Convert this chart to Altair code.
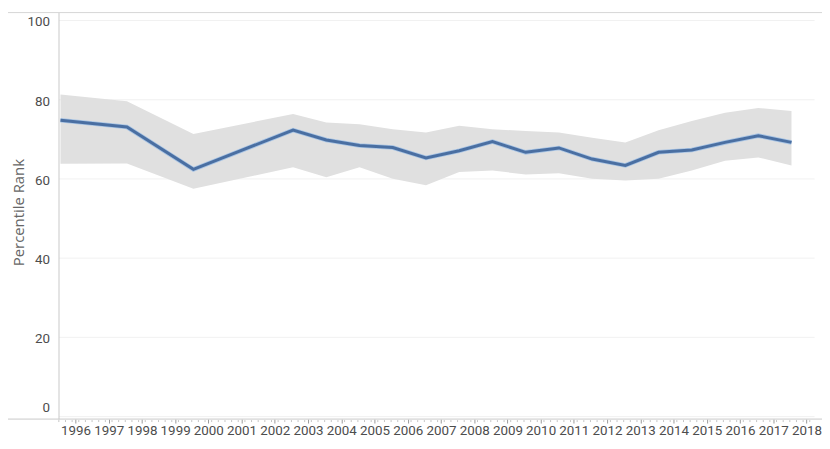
import altair as alt
import pandas as pd

# data (positions along the year axis as drawn)
years = [1996, 1998, 2000, 2003, 2004, 2005, 2006, 2007, 2008, 2009, 2010,
         2011, 2012, 2013, 2014, 2015, 2016, 2017, 2018]
rank = [74.7, 73.0, 62.3, 72.2, 69.7, 68.3, 67.8, 65.2, 67.0, 69.3, 66.6,
        67.7, 64.9, 63.3, 66.6, 67.2, 69.1, 70.8, 69.1]
upper = [81.2, 79.5, 71.2, 76.3, 74.1, 73.7, 72.4, 71.6, 73.3, 72.4, 72.0,
         71.6, 70.3, 69.1, 72.2, 74.5, 76.6, 77.8, 77.0]
lower = [63.7, 63.8, 57.4, 62.8, 60.3, 62.8, 59.9, 58.3, 61.6, 62.0, 61.0,
         61.3, 59.9, 59.5, 59.9, 62.0, 64.5, 65.3, 63.3]

tick_years = list(range(1996, 2019))
y_ticks = [0, 20, 40, 60, 80, 100]

df = pd.DataFrame({"year": years, "rank": rank, "upper": upper, "lower": lower})

W, H = 763, 411
FONT = "Roboto"
TXT = "#4d4d4d"

xscale = alt.Scale(domain=[1995.94, 2018.68], nice=False, zero=False)
yscale = alt.Scale(domain=[-0.75, 102], nice=False, zero=False)

x_axis = alt.Axis(
    values=[t + 0.45 for t in tick_years],
    labelExpr="'' + floor(datum.value)",
    title=None, grid=False, domain=False,
    ticks=True, tickSize=4, tickColor="#9a9a9a",
    labelFont=FONT, labelFontSize=13.5, labelColor=TXT,
    labelPadding=1, labelOverlap=False, labelFlush=False, labelBound=False,
)
y_axis = alt.Axis(
    values=y_ticks, title="Percentile Rank",
    grid=True, gridColor="#f1f1f1", gridWidth=1,
    domain=True, domainColor="#c8c8c8", ticks=False,
    labelFont=FONT, labelFontSize=13.5, labelColor=TXT, labelPadding=9,
    labelOffset={"condition": {"test": "datum.value == 0", "value": -9}, "value": 2},
    titleFont="Open Sans", titleFontSize=15, titleFontWeight="normal", titleColor="#666666",
    titleAngle=270, titleAlign="center", titleBaseline="middle",
    titleX=-40, titleY=202,
)

band = alt.Chart(df).mark_area(color="#e0e0e0", opacity=1).encode(
    x=alt.X("year:Q", scale=xscale, axis=x_axis),
    y=alt.Y("upper:Q", scale=yscale, axis=y_axis),
    y2="lower:Q",
)

halo = alt.Chart(df).mark_line(color="#a8c4e4", strokeWidth=4.6).encode(
    x=alt.X("year:Q", scale=xscale, axis=x_axis),
    y=alt.Y("rank:Q", scale=yscale, axis=y_axis),
)
line = alt.Chart(df).mark_line(color="#4a6fa2", strokeWidth=3).encode(
    x=alt.X("year:Q", scale=xscale, axis=x_axis),
    y=alt.Y("rank:Q", scale=yscale, axis=y_axis),
)

minor = alt.Chart(alt.sequence(1995.95, 2018.68, 0.2, as_="t")).mark_rule(
    color="#c4c4c4", strokeWidth=1
).encode(
    x=alt.X("t:Q", scale=xscale, axis=x_axis),
    y=alt.value(H + 1), y2=alt.value(H + 3),
)

one = pd.DataFrame({"a": [0]})
top_border = alt.Chart(one).mark_rule(color="#d6d6d6", strokeWidth=1).encode(
    x=alt.value(-51), x2=alt.value(W + 8), y=alt.value(0.5)
)
bottom_line = alt.Chart(one).mark_rule(color="#c8c8c8", strokeWidth=1).encode(
    x=alt.value(-51), x2=alt.value(W + 8), y=alt.value(H)
)

chart = alt.layer(band, halo, line, minor, top_border, bottom_line).properties(
    width=W, height=H,
    autosize=alt.AutoSizeParams(type="none"),
    padding={"left": 51, "top": 2, "right": 8, "bottom": 20},
    background="white",
).configure_view(stroke=None).configure_axisX(labelOverlap=False)

chart.save("out.html", embed_options={"renderer": "svg", "actions": False})
